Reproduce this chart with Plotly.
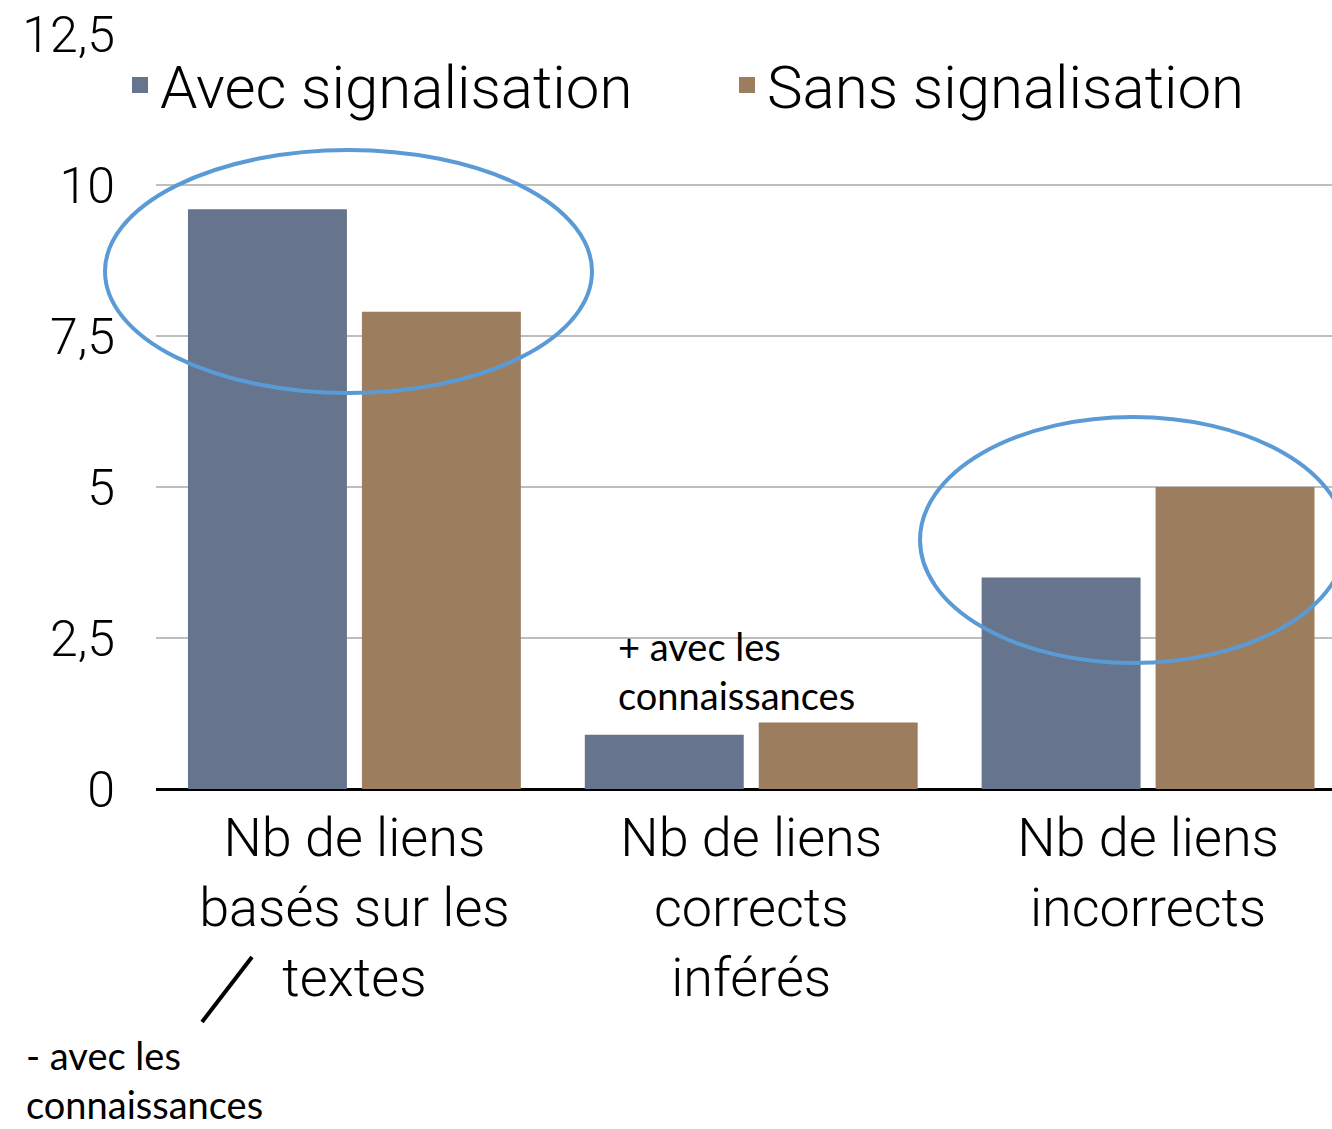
import plotly.graph_objects as go

categories = ["Nb de liens<br>basés sur les<br>textes",
              "Nb de liens<br>corrects<br>inférés",
              "Nb de liens<br>incorrects"]
series_names = ["Avec signalisation", "Sans signalisation"]
avec_values = [9.6, 0.9, 3.5]
sans_values = [7.9, 1.1, 5.0]
colors = ["#66748D", "#9C7E5F"]

MAIN_FONT = "Roboto"
NOTE_FONT = "Lato"

W, H = 1332, 1129
L, R, T, B = 156, 0, 34, 340
pw, ph = W - L - R, H - T - B

def px(x):
    return (x - L) / pw

def py(y):
    return (H - B - y) / ph

fig = go.Figure()
legend_ids = ["legend", "legend2"]
for name, vals, col, lg in zip(series_names, [avec_values, sans_values], colors, legend_ids):
    fig.add_trace(go.Bar(x=[0, 1, 2], y=vals, name=name, marker=dict(color=col, line=dict(width=0)),
                         showlegend=False, hoverinfo="skip"))
    fig.add_trace(go.Scatter(x=[None], y=[None], mode="markers", name=name, legend=lg,
                             marker=dict(symbol="square", size=27, color=col), hoverinfo="skip"))

legend_font = dict(family=MAIN_FONT, size=60, color="black", weight=300)

shapes = [
    dict(type="circle", xref="paper", yref="paper", x0=px(105), x1=px(592), y0=py(393), y1=py(150),
         line=dict(color="#5B9BD5", width=4)),
    dict(type="circle", xref="paper", yref="paper", x0=px(920), x1=px(1346), y0=py(663), y1=py(417),
         line=dict(color="#5B9BD5", width=4)),
    dict(type="line", xref="paper", yref="paper", x0=px(252), y0=py(957), x1=px(202), y1=py(1022),
         line=dict(color="black", width=4)),
]

note_font = dict(family=NOTE_FONT, size=38, color="black", weight=400)
annotations = [
    dict(text="+ avec les<br>connaissances", xref="paper", yref="paper", x=px(616), y=py(670),
         xanchor="left", yanchor="middle", align="left", showarrow=False, font=note_font),
    dict(text="- avec les<br>connaissances", xref="paper", yref="paper", x=px(24), y=py(1079),
         xanchor="left", yanchor="middle", align="left", showarrow=False, font=note_font),
]

fig.update_layout(
    width=W, height=H,
    margin=dict(l=L, r=R, t=T, b=B, pad=0),
    paper_bgcolor="white", plot_bgcolor="white",
    separators=", ",
    barmode="group", bargap=0.1234, bargroupgap=0.0862,
    font=dict(family=MAIN_FONT, color="black", weight=300),
    showlegend=True,
    hovermode=False,
    legend=dict(orientation="h", x=px(120), y=py(85), xanchor="left", yanchor="middle",
                font=legend_font, bgcolor="rgba(0,0,0,0)", itemclick=False),
    legend2=dict(orientation="h", x=px(727), y=py(85), xanchor="left", yanchor="middle",
                 font=legend_font, bgcolor="rgba(0,0,0,0)", itemclick=False),
    shapes=shapes,
    annotations=annotations,
)
fig.update_xaxes(range=[-0.5, 2.4635], tickvals=[0, 1, 2], ticktext=categories,
                 tickfont=dict(family=MAIN_FONT, size=54, color="black", weight=300),
                 showgrid=False, showline=False, ticks="", ticklabelstandoff=12)
fig.update_yaxes(range=[0, 12.5], dtick=2.5, showgrid=True, gridcolor="#BEBEBE", gridwidth=2,
                 zeroline=True, zerolinecolor="black", zerolinewidth=2.5,
                 tickfont=dict(family=MAIN_FONT, size=50, color="black", weight=300),
                 ticks="", ticklabelstandoff=40, showline=False)

fig.write_html("out.html", config={"displayModeBar": False},
               post_script="document.body.style.margin='0';document.body.style.padding='0';")
